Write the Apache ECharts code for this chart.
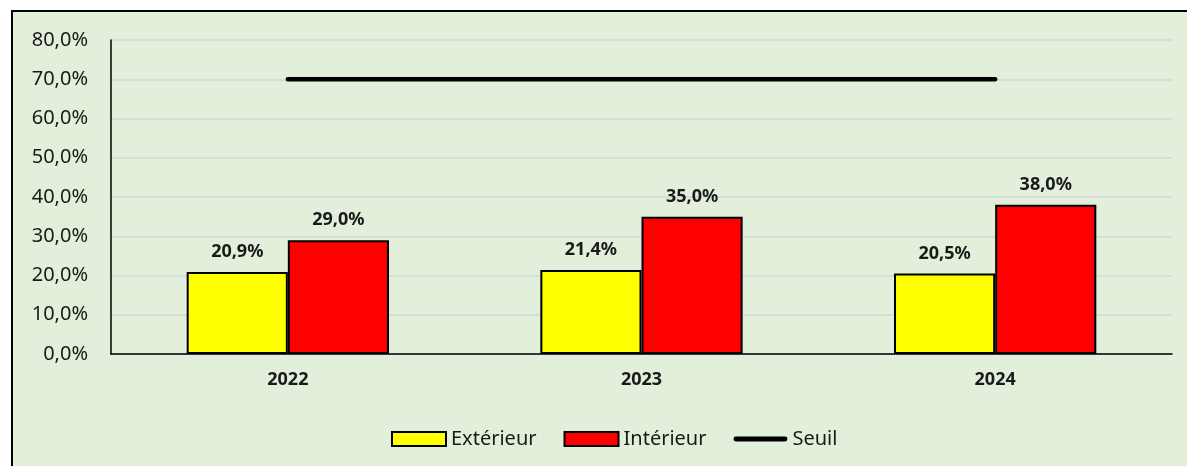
<!DOCTYPE html>
<html>
<head>
<meta charset="utf-8">
<script src="https://cdn.jsdelivr.net/npm/echarts@6/dist/echarts.min.js"></script>
<style>
  html, body { margin: 0; padding: 0; background: #fff; }
  #chart { width: 1187px; height: 466px; }
</style>
</head>
<body>
<div id="chart"></div>
<script>
const years = ['2022', '2023', '2024']
const exterieur = [20.9, 21.4, 20.5]
const interieur = [29.0, 35.0, 38.0]
const seuil = [70, 70, 70]

const pct = v => v.toFixed(1).replace('.', ',') + '%'
const font = 'Noto Sans'

const chart = echarts.init(document.getElementById('chart'))

const barLabel = {
  show: true, position: 'top', distance: 11,
  fontFamily: font, fontSize: 18, fontWeight: 'bold', color: '#1a1a1a',
  formatter: p => pct(p.value)
}

chart.setOption({
  animation: false,
  textStyle: { fontFamily: font },
  graphic: [{
    type: 'rect', z: -10, silent: true,
    shape: { x: 12, y: 11, width: 1200, height: 500 },
    style: { fill: '#E2EFDA', stroke: '#000', lineWidth: 2 }
  }],
  grid: { left: 111, right: 15, top: 40, bottom: 112 },
  legend: {
    top: 424, left: 386, itemGap: 27, itemWidth: 54, itemHeight: 14,
    textStyle: { fontSize: 20, color: '#1a1a1a', fontFamily: font },
    data: [
      { name: 'Extérieur', icon: 'rect' },
      { name: 'Intérieur', icon: 'rect' },
      { name: 'Seuil', icon: 'path://M2.5,0 L53.5,0 A2.5,2.5 0 0 1 53.5,5 L2.5,5 A2.5,2.5 0 0 1 2.5,0 Z' }
    ]
  },
  xAxis: {
    type: 'category', data: years,
    axisLine: { lineStyle: { color: '#000', width: 1.5 } },
    axisTick: { show: false },
    axisLabel: { fontSize: 18, fontWeight: 'bold', color: '#1a1a1a', margin: 17 }
  },
  yAxis: {
    type: 'value', min: 0, max: 80, interval: 10,
    axisLine: { show: true, lineStyle: { color: '#000', width: 1.5 } },
    axisTick: { show: false },
    splitLine: { lineStyle: { color: '#d6d6d6', width: 1.5 } },
    axisLabel: { fontSize: 20, color: '#1a1a1a', margin: 23, formatter: v => pct(v) }
  },
  series: [
    {
      name: 'Extérieur', type: 'bar', data: exterieur,
      barWidth: '28.6%', barGap: '0%',
      itemStyle: { color: '#FFFF00', borderColor: '#000', borderWidth: 2 },
      label: barLabel
    },
    {
      name: 'Intérieur', type: 'bar', data: interieur,
      barWidth: '28.6%', barGap: '0%',
      itemStyle: { color: '#FF0000', borderColor: '#000', borderWidth: 2 },
      label: barLabel
    },
    {
      name: 'Seuil', type: 'line', data: seuil,
      symbol: 'none',
      lineStyle: { color: '#000', width: 4.5, cap: 'round' },
      itemStyle: { color: '#000' }
    }
  ]
})
</script>
</body>
</html>
